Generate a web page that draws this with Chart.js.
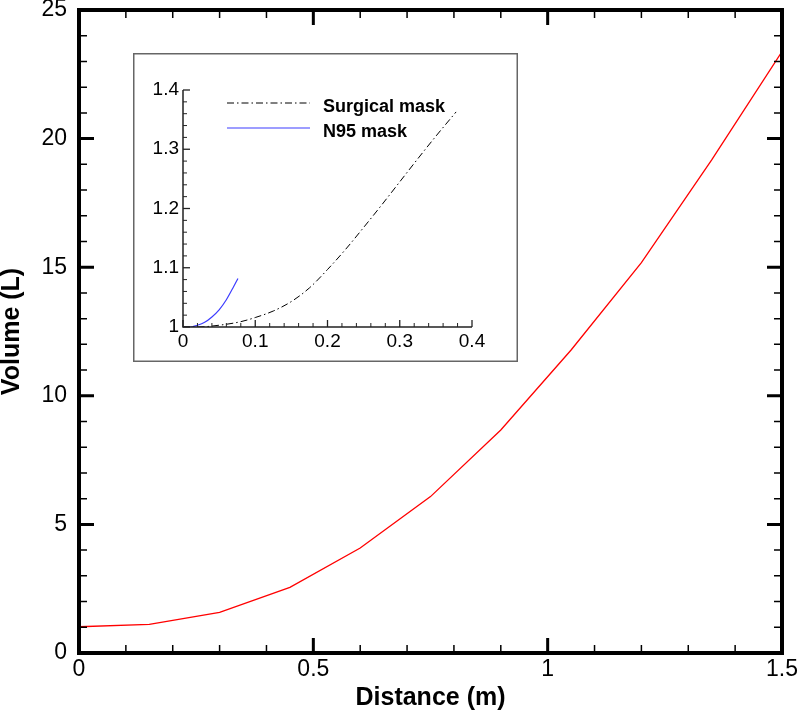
<!DOCTYPE html>
<html>
<head>
<meta charset="utf-8">
<script src="https://cdn.jsdelivr.net/npm/chart.js@4.4.0/dist/chart.umd.min.js"></script>
<style>
html,body{margin:0;padding:0;background:#fff;}
#wrap{position:relative;width:801px;height:713px;}
#inset{position:absolute;left:133px;top:53px;}
</style>
</head>
<body>
<div id="wrap">
<canvas id="main" width="801" height="713"></canvas>
<canvas id="inset" width="385" height="309"></canvas>
</div>
<script>
// main curve
var distance = [0, 0.15, 0.3, 0.45, 0.6, 0.75, 0.9, 1.05, 1.2, 1.35, 1.5];
var volume = [1.02, 1.11, 1.58, 2.55, 4.08, 6.08, 8.67, 11.78, 15.18, 19.17, 23.38];
var mainXTicks = [0, 0.5, 1, 1.5];
var mainYTicks = [0, 5, 10, 15, 20, 25];

// inset curves
var surgicalX = [0, 0.02, 0.05, 0.08, 0.1, 0.125, 0.15, 0.175, 0.2, 0.225, 0.25, 0.275, 0.3, 0.325, 0.35, 0.378];
var surgicalY = [1.0, 1.0, 1.003, 1.009, 1.016, 1.027, 1.043, 1.066, 1.097, 1.131, 1.168, 1.206, 1.245, 1.284, 1.322, 1.363];
var n95X = [0, 0.01, 0.02, 0.03, 0.04, 0.05, 0.06, 0.07, 0.076];
var n95Y = [1.0, 1.0, 1.003, 1.008, 1.017, 1.029, 1.046, 1.068, 1.082];
var insetXTicks = [0, 0.1, 0.2, 0.3, 0.4];
var insetYTicks = [1, 1.1, 1.2, 1.3, 1.4];

var FONT = "'Liberation Sans', Arial, sans-serif";

function pts(xs, ys) {
	return xs.map(function(v, i) { return {x: v, y: ys[i]}; });
}
function fixedTicks(arr) {
	return function(scale) { scale.ticks = arr.map(function(v) { return {value: v}; }); };
}
function fixSize(prop, size) {
	return function(scale) {
		scale[prop] = size;
		scale.paddingTop = 0; scale.paddingBottom = 0;
		scale.paddingLeft = 0; scale.paddingRight = 0;
	};
}

// inward ticks, drawn from the scales
function drawInTicks(ctx, scale, step, majorEvery, sides, major, minor, wMajor, wMinor) {
	var a = scale.chart.chartArea;
	var n = Math.round((scale.max - scale.min) / step);
	for (var i = 0; i <= n; i++) {
		var v = scale.min + i * step;
		var isMajor = i % majorEvery === 0;
		var len = isMajor ? major : minor;
		ctx.lineWidth = isMajor ? wMajor : wMinor;
		var p = scale.getPixelForValue(v);
		ctx.beginPath();
		if (scale.isHorizontal()) {
			if (sides.indexOf('b') >= 0) { ctx.moveTo(p, a.bottom); ctx.lineTo(p, a.bottom - len); }
			if (sides.indexOf('t') >= 0) { ctx.moveTo(p, a.top); ctx.lineTo(p, a.top + len); }
		} else {
			if (sides.indexOf('l') >= 0) { ctx.moveTo(a.left, p); ctx.lineTo(a.left + len, p); }
			if (sides.indexOf('r') >= 0) { ctx.moveTo(a.right, p); ctx.lineTo(a.right - len, p); }
		}
		ctx.stroke();
	}
}

var mainFrame = {
	id: 'mainFrame',
	afterDraw: function(chart) {
		var ctx = chart.ctx, a = chart.chartArea;
		ctx.save();
		ctx.strokeStyle = '#000';
		drawInTicks(ctx, chart.scales.x, 0.1, 5, 'bt', 15, 8, 3, 1.5);
		drawInTicks(ctx, chart.scales.y, 1, 5, 'lr', 15, 8, 3, 1.5);
		ctx.lineWidth = 4;
		ctx.strokeRect(a.left, a.top, a.right - a.left, a.bottom - a.top);
		ctx.restore();
	}
};

var insetFrame = {
	id: 'insetFrame',
	beforeDraw: function(chart) {
		var ctx = chart.ctx;
		ctx.save();
		ctx.fillStyle = '#fff';
		ctx.fillRect(0, 0, chart.width, chart.height);
		ctx.strokeStyle = '#666';
		ctx.lineWidth = 1.5;
		ctx.strokeRect(0.75, 0.75, chart.width - 1.5, chart.height - 1.5);
		ctx.restore();
	},
	afterDraw: function(chart) {
		var ctx = chart.ctx, a = chart.chartArea;
		ctx.save();
		ctx.strokeStyle = '#222';
		drawInTicks(ctx, chart.scales.x, 0.02, 5, 'b', 7, 4, 1.3, 1);
		drawInTicks(ctx, chart.scales.y, 0.02, 5, 'l', 7, 4, 1.3, 1);
		ctx.lineWidth = 1.5;
		ctx.beginPath();
		ctx.moveTo(a.left, a.top);
		ctx.lineTo(a.left, a.bottom);
		ctx.lineTo(a.right, a.bottom);
		ctx.stroke();
		// legend
		var rows = [50, 75];
		chart.data.datasets.forEach(function(ds, i) {
			ctx.strokeStyle = ds.borderColor;
			ctx.lineWidth = ds.borderWidth;
			ctx.setLineDash(ds.borderDash || []);
			ctx.beginPath();
			ctx.moveTo(a.left + 44, rows[i]);
			ctx.lineTo(a.left + 127, rows[i]);
			ctx.stroke();
			ctx.setLineDash([]);
			ctx.fillStyle = '#000';
			ctx.font = 'bold 18px ' + FONT;
			ctx.textBaseline = 'alphabetic';
			ctx.fillText(ds.label, a.left + 140, rows[i] + 9);
		});
		ctx.restore();
	}
};

new Chart(document.getElementById('main'), {
	type: 'line',
	data: {
		datasets: [{
			label: 'Volume',
			data: pts(distance, volume),
			borderColor: '#ff0000',
			borderWidth: 1.3,
			pointRadius: 0,
			tension: 0,
			fill: false
		}]
	},
	options: {
		responsive: false,
		animation: false,
		devicePixelRatio: 1,
		layout: {padding: {top: 10, right: 19, left: 0, bottom: 0}},
		plugins: {legend: {display: false}, tooltip: {enabled: false}},
		scales: {
			x: {
				type: 'linear', min: 0, max: 1.5,
				afterBuildTicks: fixedTicks(mainXTicks),
				afterFit: fixSize('height', 60),
				grid: {display: false, drawTicks: false},
				border: {display: false},
				ticks: {color: '#000', font: {family: FONT, size: 23}, padding: 3, maxRotation: 0,
					callback: function(v) { return String(v); }},
				title: {display: true, text: 'Distance (m)', color: '#000',
					font: {family: FONT, size: 25, weight: 'bold', lineHeight: 1.2}, padding: {top: 0, bottom: 0}}
			},
			y: {
				type: 'linear', min: 0, max: 25,
				afterBuildTicks: fixedTicks(mainYTicks),
				afterFit: fixSize('width', 79),
				grid: {display: false, drawTicks: false},
				border: {display: false},
				ticks: {color: '#000', font: {family: FONT, size: 23}, padding: 12,
					callback: function(v) { return String(v); }},
				title: {display: true, text: 'Volume (L)', color: '#000',
					font: {family: FONT, size: 25, weight: 'bold', lineHeight: 1.0}, padding: 0}
			}
		}
	},
	plugins: [mainFrame]
});

new Chart(document.getElementById('inset'), {
	type: 'line',
	data: {
		datasets: [{
			label: 'Surgical mask',
			data: pts(surgicalX, surgicalY),
			borderColor: '#000',
			borderWidth: 1,
			borderDash: [7, 3, 1.5, 3],
			pointRadius: 0,
			cubicInterpolationMode: 'monotone',
			fill: false
		}, {
			label: 'N95 mask',
			data: pts(n95X, n95Y),
			borderColor: '#3c3cff',
			borderWidth: 1.2,
			pointRadius: 0,
			cubicInterpolationMode: 'monotone',
			fill: false
		}]
	},
	options: {
		responsive: false,
		animation: false,
		devicePixelRatio: 1,
		layout: {padding: {top: 37, right: 46, left: 0, bottom: 0}},
		plugins: {legend: {display: false}, tooltip: {enabled: false}},
		scales: {
			x: {
				type: 'linear', min: 0, max: 0.4,
				afterBuildTicks: fixedTicks(insetXTicks),
				afterFit: fixSize('height', 35),
				grid: {display: false, drawTicks: false},
				border: {display: false},
				ticks: {color: '#000', font: {family: FONT, size: 19}, padding: 3, maxRotation: 0,
					callback: function(v) { return String(v); }}
			},
			y: {
				type: 'linear', min: 1, max: 1.4,
				afterBuildTicks: fixedTicks(insetYTicks),
				afterFit: fixSize('width', 50),
				grid: {display: false, drawTicks: false},
				border: {display: false},
				ticks: {color: '#000', font: {family: FONT, size: 19}, padding: 4,
					callback: function(v) { return String(v); }}
			}
		}
	},
	plugins: [insetFrame]
});
</script>
</body>
</html>
